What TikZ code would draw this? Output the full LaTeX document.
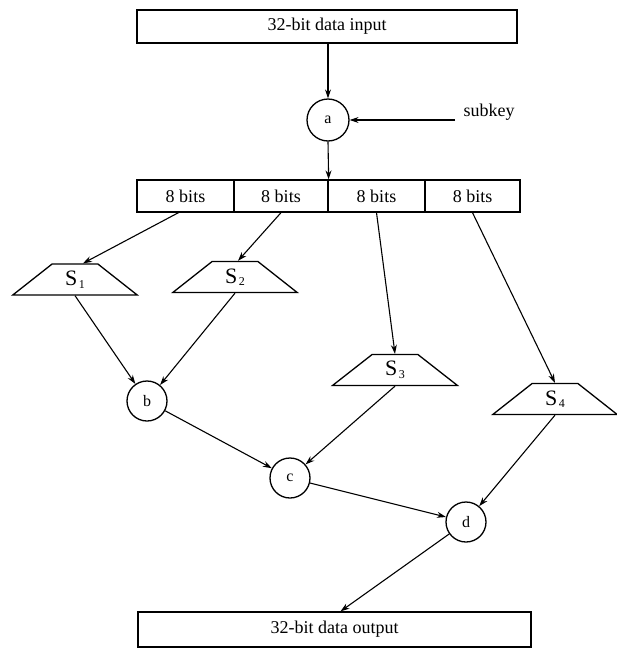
\documentclass[tikz,border=0pt]{standalone}
\usepackage{fontspec}
\setmainfont{Liberation Serif}
\usetikzlibrary{shapes.geometric,arrows.meta}
\newcommand{\sblab}[1]{{\fontsize{22}{24}\selectfont S}\raisebox{-0.55ex}{\,\fontsize{12}{13}\selectfont #1}}
\begin{document}
\begin{tikzpicture}[x=1pt,y=-1pt,
  box/.style={draw,line width=1.3pt,inner sep=0pt,font=\fontsize{18}{20}\selectfont},
  xor/.style={draw,circle,minimum size=42pt,inner sep=0pt,line width=1.3pt,font=\fontsize{16}{17}\selectfont},
  sbox/.style={draw,trapezium,trapezium angle=45,trapezium stretches=true,minimum width=125pt,minimum height=31pt,inner sep=0pt,line width=1.3pt},
  arr/.style={-{Stealth[length=9pt,width=6pt]},line width=1.1pt}]
\useasboundingbox (0,0) rectangle (617,651);
% input
\node[box,minimum width=380pt,minimum height=33pt] (in) at (327,26.5) {32-bit data input};
\node[xor] (a) at (328,120) {a};
\node[anchor=west,font=\fontsize{18}{20}\selectfont] (sk) at (460,112) {subkey};
\coordinate (skend) at (455,120);
% cells
\node[box,minimum width=97pt,minimum height=32pt] (c1) at (185.5,196) {8 bits};
\node[box,minimum width=94pt,minimum height=32pt] (c2) at (281,196) {8 bits};
\node[box,minimum width=97pt,minimum height=32pt] (c3) at (376.5,196) {8 bits};
\node[box,minimum width=95pt,minimum height=32pt] (c4) at (472.5,196) {8 bits};
% S-boxes
\node[sbox] (s1) at (75,279.5) {\sblab{1}};
\node[sbox] (s2) at (235,277) {\sblab{2}};
\node[sbox] (s3) at (395,370) {\sblab{3}};
\node[sbox] (s4) at (555,399) {\sblab{4}};
% combiners
\node[xor,minimum size=40pt] (b) at (147,401) {b};
\node[xor,minimum size=40pt] (c) at (290,478) {c};
\node[xor,minimum size=40pt] (d) at (466,522) {d};
% output
\node[box,minimum width=393pt,minimum height=35pt] (out) at (334.5,629.5) {32-bit data output};
% connectors
\draw[arr] (in.south -| a.north) -- (a.north);
\draw[arr] (skend) -- (a.east);
\draw[arr] (a.south) -- (c2.north east);
\draw[arr] ([xshift=-7pt]c1.south) -- ([xshift=8pt]s1.north);
\draw[arr] (c2.south) -- ([xshift=3pt]s2.north);
\draw[arr] (c3.south) -- (s3.north);
\draw[arr] (c4.south) -- (s4.north);
\draw[arr] (s1.south) -- (b);
\draw[arr] (s2.south) -- (b);
\draw[arr] (b) -- (c);
\draw[arr] (s3.south) -- (c);
\draw[arr] (c) -- (d);
\draw[arr] (s4.south) -- (d);
\draw[arr] (d) -- ([xshift=6pt]out.north);
\end{tikzpicture}
\end{document}
